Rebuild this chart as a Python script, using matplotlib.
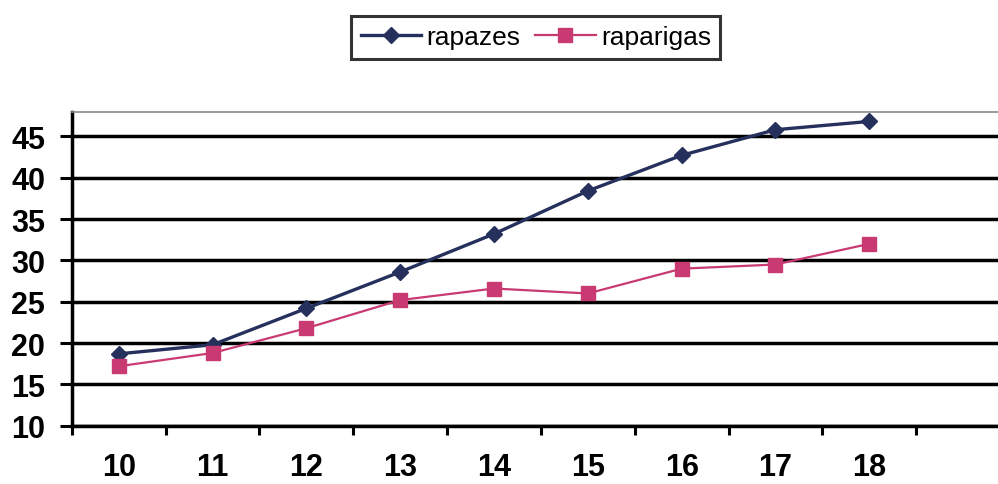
import matplotlib
matplotlib.use("Agg")
import matplotlib.pyplot as plt

plt.rcParams['font.family'] = ['Liberation Sans', 'DejaVu Sans']

# Age categories and mean values per group
idades = ['10', '11', '12', '13', '14', '15', '16', '17', '18']
rapazes = [18.7, 19.8, 24.2, 28.6, 33.2, 38.4, 42.7, 45.8, 46.8]
raparigas = [17.2, 18.8, 21.8, 25.2, 26.6, 26.0, 29.0, 29.5, 32.0]
y_ticks = [10, 15, 20, 25, 30, 35, 40, 45]

fig = plt.figure(figsize=(9.98, 4.85), dpi=100)
ax = fig.add_axes([0.072, 0.12, 0.94, 0.648])

x = list(range(len(idades)))
ax.plot(x, rapazes, color='#26305c', lw=2.4, marker='D', ms=8.5,
        label='rapazes', zorder=3)
ax.plot(x, raparigas, color='#c93a72', lw=1.6, marker='s', ms=10,
        label='raparigas', zorder=3)

ax.set_xlim(-0.5, 9.5)
ax.set_ylim(10, 48)

# horizontal gridlines
ax.set_yticks(y_ticks)
ax.yaxis.grid(True, color='black', lw=2.5)
ax.set_axisbelow(True)

# category ticks sit between categories, labels at the categories
ax.set_xticks([i - 0.5 for i in range(11)], minor=False)
ax.set_xticklabels([])
ax.set_xticks(x, minor=True)
ax.set_xticklabels(idades, minor=True)
ax.tick_params(axis='x', which='major', direction='out', length=6.5, width=2.2, color='black')
ax.tick_params(axis='x', which='minor', length=0, pad=19, labelsize=22)
ax.tick_params(axis='y', direction='out', length=8.6, width=2.2, pad=10.5, labelsize=22)
for lab in ax.get_xticklabels(minor=True) + ax.get_yticklabels():
    lab.set_fontweight('bold')

for s in ('left', 'bottom'):
    ax.spines[s].set_linewidth(2.5)
    ax.spines[s].set_color('black')
ax.spines['top'].set_color('#8a8a8a')
ax.spines['top'].set_linewidth(1.2)
ax.spines['right'].set_visible(False)

leg = fig.legend(loc='center', bbox_to_anchor=(0.537, 0.921), ncol=2,
                 fontsize=19, frameon=True, fancybox=False,
                 edgecolor='black', handlelength=2.3, handletextpad=0.2,
                 columnspacing=0.55, borderpad=0.35, borderaxespad=0)
leg.get_frame().set_linewidth(2.2)

fig.savefig('out.png', dpi=100, facecolor='white')
